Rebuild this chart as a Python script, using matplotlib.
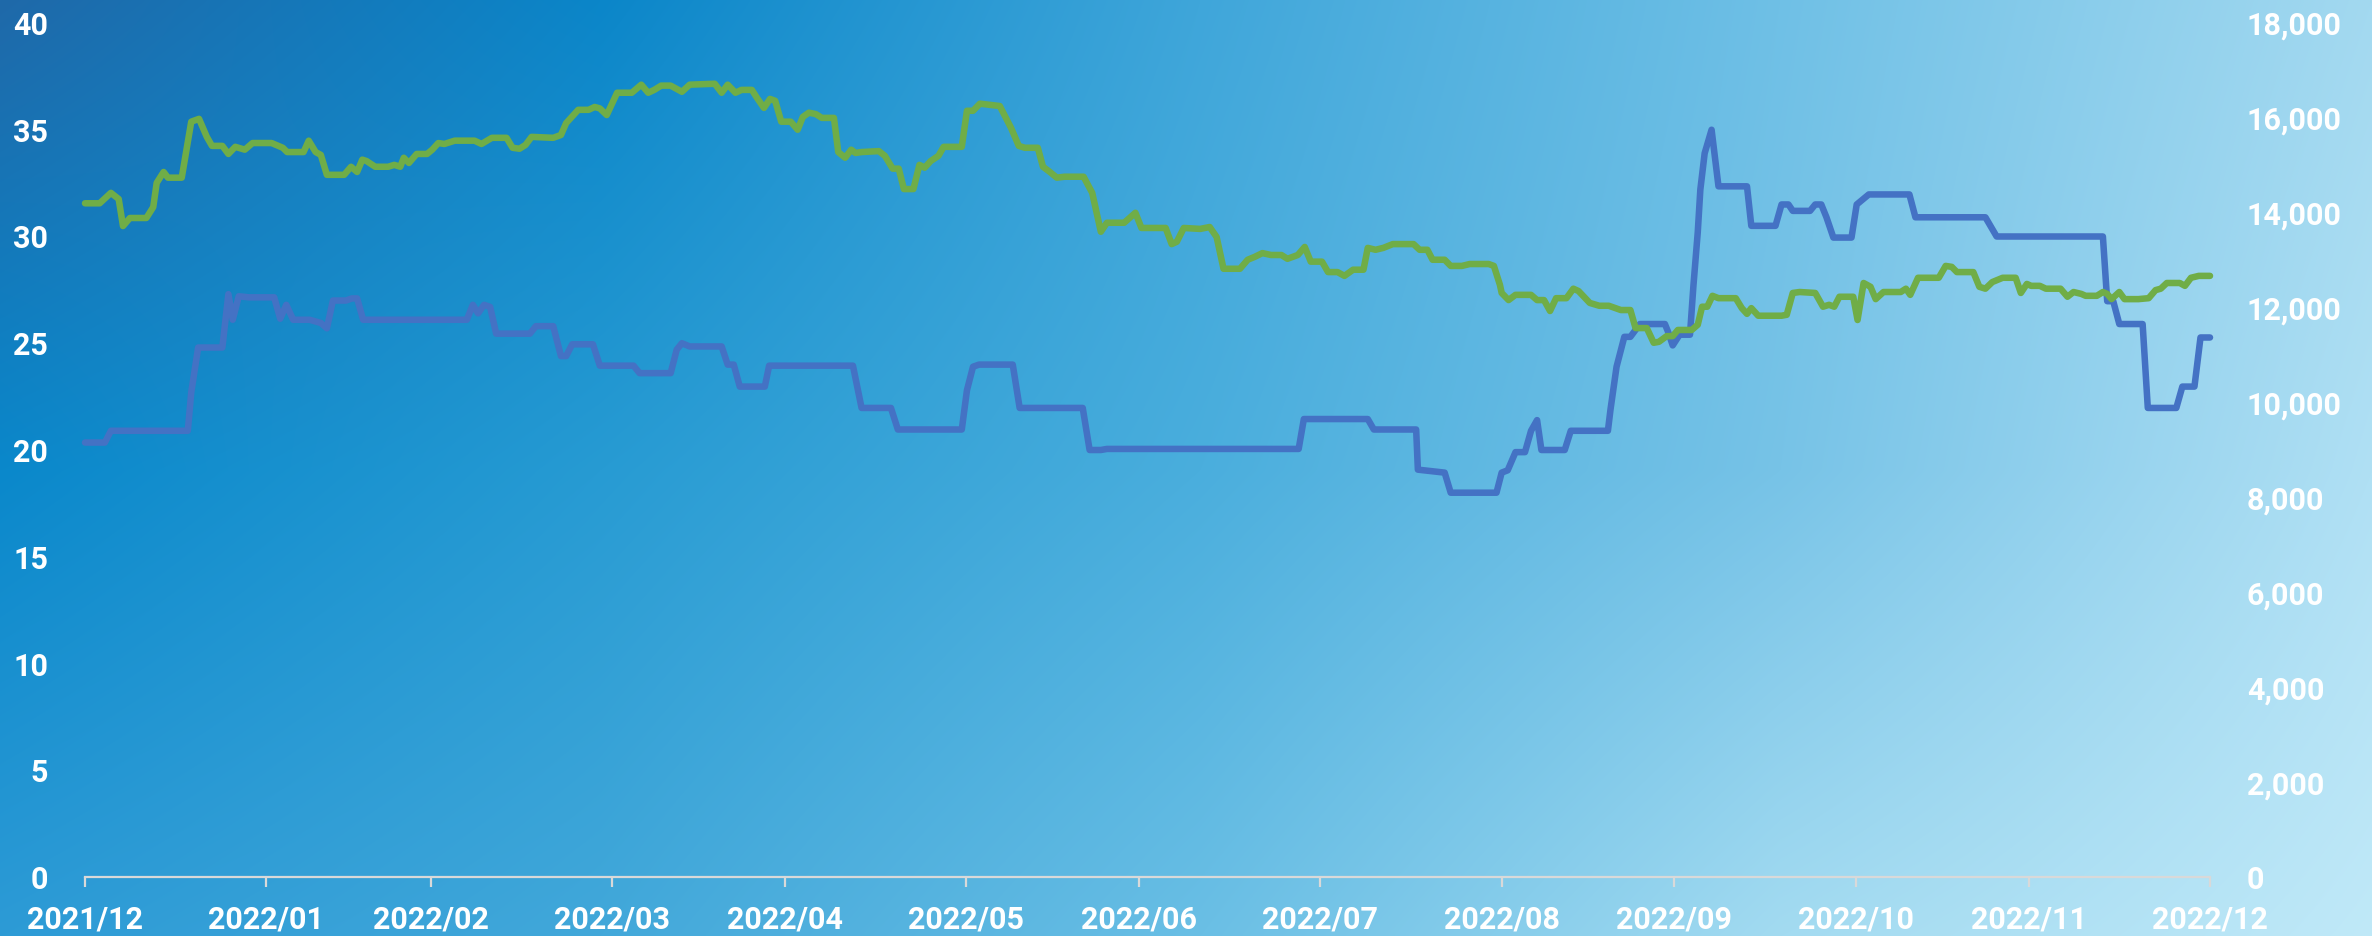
import numpy as np
import matplotlib
matplotlib.use("Agg")
import matplotlib.pyplot as plt
from matplotlib.colors import to_rgb
from matplotlib.ticker import FuncFormatter

# x positions are trading-day indices since 2021/12/01
month_ticks = [0, 21, 40, 61, 81, 102, 122, 143, 164, 184, 205, 225, 246]
month_labels = ['2021/12', '2022/01', '2022/02', '2022/03', '2022/04', '2022/05',
                '2022/06', '2022/07', '2022/08', '2022/09', '2022/10', '2022/11',
                '2022/12']

# blue series, left axis
blue_x = [0, 2.3, 3.0, 11.9, 12.3, 13.1, 15.9, 16.6, 17.1, 17.8,
          19.0, 21.9, 22.6, 23.3, 24.1, 26.0, 27.3, 28.0, 28.7, 30.2,
          30.9, 31.5, 32.2, 44.2, 44.9, 45.5, 46.2, 46.9, 47.6, 51.5,
          52.2, 54.2, 55.1, 55.7, 56.4, 58.8, 59.6, 63.5, 64.2, 67.8,
          68.5, 69.1, 70.0, 73.7, 74.4, 75.1, 75.8, 78.7, 79.2, 88.9,
          89.9, 93.3, 94.1, 101.5, 102.1, 102.8, 103.5, 107.4, 108.2, 115.5,
          116.3, 117.6, 118.3, 140.5, 141.1, 148.5, 149.2, 154.1, 154.3, 157.4,
          158.1, 163.4, 164.0, 164.7, 165.6, 166.7, 167.4, 168.1, 168.6, 171.3,
          172.0, 176.3, 176.6, 177.3, 178.2, 178.9, 180.0, 182.9, 183.3, 183.8,
          184.6, 185.8, 186.2, 186.7, 187.0, 187.5, 188.3, 189.1, 192.4, 192.9,
          195.7, 196.4, 197.2, 197.7, 199.7, 200.3, 201.0, 201.6, 202.4, 204.5,
          205.1, 206.5, 211.2, 211.9, 220.0, 221.3, 233.6, 234.1, 234.8, 235.5,
          238.2, 238.8, 242.1, 242.8, 244.2, 244.9, 246.0]
blue_y = [20.35, 20.35, 20.9, 20.9, 22.7, 24.8, 24.8, 27.3, 26.1, 27.2,
          27.15, 27.15, 26.15, 26.8, 26.1, 26.1, 25.95, 25.7, 27.0, 27.0,
          27.1, 27.1, 26.1, 26.1, 26.8, 26.4, 26.8, 26.7, 25.45, 25.45,
          25.8, 25.8, 24.4, 24.4, 24.95, 24.95, 23.95, 23.95, 23.6, 23.6,
          24.7, 25.0, 24.85, 24.85, 24.0, 24.0, 22.97, 22.97, 23.95, 23.95,
          21.97, 21.97, 20.96, 20.96, 22.8, 23.9, 24.0, 24.0, 21.97, 21.97,
          20.0, 20.0, 20.05, 20.05, 21.45, 21.45, 20.96, 20.96, 19.08, 18.94,
          18.0, 18.0, 18.94, 19.05, 19.9, 19.9, 20.9, 21.4, 20.0, 20.0,
          20.9, 20.9, 21.9, 23.9, 25.3, 25.3, 25.9, 25.9, 25.5, 24.9,
          25.4, 25.4, 27.7, 30.2, 32.2, 33.9, 35.0, 32.35, 32.35, 30.5,
          30.5, 31.5, 31.5, 31.2, 31.2, 31.5, 31.5, 30.9, 29.95, 29.95,
          31.5, 31.97, 31.97, 30.9, 30.9, 30.0, 30.0, 26.97, 26.97, 25.9,
          25.9, 21.97, 21.97, 22.97, 22.97, 25.27, 25.27]

# green series, right axis
green_x = [0, 1.7, 3.0, 3.9, 4.4, 5.2, 7.1, 7.9, 8.3, 9.1,
           9.6, 11.2, 12.3, 13.2, 14.1, 14.7, 15.9, 16.6, 17.4, 18.5,
           19.4, 21.6, 22.9, 23.4, 25.3, 25.9, 26.7, 27.3, 28.0, 30.0,
           30.8, 31.5, 32.1, 32.6, 33.6, 35.1, 35.8, 36.5, 36.9, 37.5,
           38.4, 39.6, 40.2, 40.9, 41.6, 42.8, 45.1, 45.9, 47.1, 48.8,
           49.5, 50.3, 51.0, 51.7, 54.2, 55.1, 55.7, 57.1, 58.3, 59.0,
           59.6, 60.4, 61.6, 63.3, 64.4, 65.2, 65.9, 66.7, 67.8, 69.1,
           70.0, 72.9, 73.7, 74.4, 75.3, 76.0, 77.2, 77.8, 78.6, 79.3,
           79.9, 80.6, 81.7, 82.5, 83.1, 83.8, 84.6, 85.3, 86.7, 87.2,
           88.0, 88.7, 89.2, 89.9, 91.9, 92.6, 93.5, 94.2, 94.8, 95.9,
           96.6, 97.2, 97.9, 98.8, 99.4, 101.5, 102.1, 102.8, 103.6, 105.9,
           107.2, 108.1, 108.8, 110.3, 110.9, 111.7, 112.5, 113.4, 115.6, 116.6,
           117.6, 118.3, 120.3, 121.6, 122.3, 125.1, 125.8, 126.4, 127.2, 129.1,
           130.2, 131.0, 131.8, 133.7, 134.6, 135.4, 136.3, 137.3, 138.5, 139.2,
           140.4, 141.2, 141.9, 143.2, 143.9, 145.0, 145.8, 146.8, 148.0, 148.5,
           149.4, 150.3, 151.4, 153.8, 154.5, 155.4, 156.0, 157.4, 158.1, 159.4,
           160.3, 162.5, 163.1, 163.8, 164.0, 164.8, 165.6, 167.4, 168.1, 168.9,
           169.6, 170.3, 171.5, 172.3, 172.9, 174.2, 175.3, 176.4, 177.8, 178.9,
           179.5, 180.8, 181.6, 182.2, 183.1, 183.8, 184.4, 186.0, 186.7, 187.2,
           187.8, 188.4, 189.1, 191.1, 191.8, 192.4, 192.9, 193.7, 196.4, 197.0,
           197.7, 198.5, 200.3, 201.2, 201.9, 202.5, 203.1, 204.7, 205.2, 205.9,
           206.7, 207.3, 208.2, 210.2, 210.8, 211.3, 212.2, 214.6, 215.4, 216.1,
           216.7, 218.6, 219.3, 220.0, 220.8, 222.0, 223.5, 224.1, 224.8, 225.3,
           226.3, 227.0, 228.7, 229.5, 230.2, 231.1, 231.6, 232.9, 233.6, 234.1,
           234.6, 235.5, 236.1, 237.7, 238.9, 239.7, 240.3, 241.0, 242.5, 243.1,
           243.8, 244.7, 246.0]
green_y = [14200, 14200, 14420, 14290, 13720, 13890, 13890, 14120, 14630, 14860,
           14740, 14740, 15920, 15980, 15600, 15410, 15410, 15240, 15390, 15330,
           15470, 15470, 15370, 15280, 15280, 15520, 15280, 15220, 14800, 14800,
           14970, 14860, 15120, 15090, 14970, 14970, 15010, 14970, 15160, 15050,
           15240, 15240, 15330, 15470, 15450, 15520, 15520, 15450, 15580, 15580,
           15370, 15350, 15430, 15600, 15580, 15640, 15890, 16170, 16170, 16230,
           16200, 16060, 16530, 16530, 16700, 16530, 16590, 16680, 16680, 16550,
           16700, 16720, 16530, 16700, 16530, 16590, 16590, 16420, 16210, 16400,
           16360, 15920, 15920, 15750, 16020, 16110, 16080, 16000, 16000, 15280,
           15160, 15330, 15260, 15280, 15300, 15200, 14930, 14930, 14500, 14500,
           15010, 14950, 15090, 15200, 15390, 15390, 16150, 16150, 16300, 16250,
           15790, 15410, 15370, 15370, 14970, 14860, 14740, 14760, 14760, 14420,
           13600, 13790, 13790, 14000, 13680, 13680, 13340, 13390, 13680, 13660,
           13700, 13490, 12820, 12820, 13010, 13070, 13150, 13110, 13110, 13030,
           13110, 13280, 12970, 12970, 12750, 12750, 12670, 12800, 12800, 13260,
           13220, 13260, 13340, 13340, 13220, 13220, 13010, 13010, 12880, 12880,
           12920, 12920, 12880, 12480, 12310, 12160, 12270, 12270, 12160, 12160,
           11930, 12200, 12200, 12400, 12350, 12100, 12040, 12040, 11950, 11950,
           11570, 11570, 11260, 11280, 11400, 11400, 11530, 11530, 11640, 12020,
           12020, 12250, 12200, 12200, 11990, 11870, 11990, 11830, 11830, 11850,
           12310, 12330, 12310, 12020, 12060, 12020, 12230, 12230, 11740, 12520,
           12440, 12180, 12330, 12330, 12400, 12270, 12630, 12630, 12880, 12860,
           12750, 12750, 12440, 12400, 12540, 12630, 12630, 12310, 12500, 12460,
           12460, 12400, 12400, 12230, 12330, 12290, 12250, 12250, 12330, 12290,
           12180, 12330, 12180, 12180, 12200, 12370, 12400, 12520, 12520, 12460,
           12630, 12670, 12670]

W, H = 2372, 936
plt.rcParams['font.family'] = ['Roboto', 'DejaVu Sans']
plt.rcParams['font.weight'] = 'bold'

fig = plt.figure(figsize=(W / 100, H / 100), dpi=100)

# background gradient, sampled colours interpolated over the canvas
gx = [0, 600, 1200, 1780, W]
gy = [0, 470, H]
gcols = [['#1f69a9', '#0b86c9', '#3fa6da', '#6fc0e6', '#a3d9f0'],
         ['#0a88cb', '#279bd3', '#4aaedd', '#77c3e7', '#b0e0f4'],
         ['#2d9bd6', '#42a8da', '#6abfe5', '#a3dbf1', '#c0e9f8']]
grid = np.array([[to_rgb(c) for c in row] for row in gcols])
xx = np.arange(W)
yy = np.arange(H)
rows = np.stack([np.stack([np.interp(xx, gx, grid[r, :, k]) for k in range(3)], -1)
                 for r in range(3)])
img = np.stack([np.stack([np.interp(yy, gy, rows[:, c, k]) for c in range(W)], 1)
                for k in range(3)], -1)
bg = fig.add_axes([0, 0, 1, 1])
bg.imshow(img, aspect='auto', extent=[0, 1, 0, 1], origin='upper')
bg.axis('off')

ax = fig.add_axes([85 / W, 1 - 877 / H, (2210 - 85) / W, (877 - 23) / H])
ax.patch.set_alpha(0)
ax2 = ax.twinx()

ax.plot(blue_x, blue_y, color='#4472C4', lw=4.7, solid_joinstyle='round',
        solid_capstyle='round', clip_on=False)
ax2.plot(green_x, green_y, color='#70AD47', lw=4.7, solid_joinstyle='round',
         solid_capstyle='round', clip_on=False)

ax.set_xlim(0, 246)
ax.set_ylim(0, 40)
ax2.set_ylim(0, 18000)
ax.set_yticks(range(0, 41, 5))
ax2.set_yticks(range(0, 18001, 2000))
ax2.yaxis.set_major_formatter(FuncFormatter(lambda v, p: '{:,.0f}'.format(v)))
ax.set_xticks(month_ticks, month_labels)

for a in (ax, ax2):
    for s in a.spines.values():
        s.set_visible(False)
ax.spines['bottom'].set_visible(True)
ax.spines['bottom'].set_color('#d9d9d9')
ax.spines['bottom'].set_linewidth(1.6)

ax.tick_params(axis='y', length=0, pad=26.5, labelsize=22, labelcolor='white')
ax2.tick_params(axis='y', length=0, pad=26.5, labelsize=22, labelcolor='white')
ax.tick_params(axis='x', length=7.5, width=1.6, color='#d9d9d9', pad=12,
               labelsize=22, labelcolor='white')

fig.savefig('out.png', dpi=100)
